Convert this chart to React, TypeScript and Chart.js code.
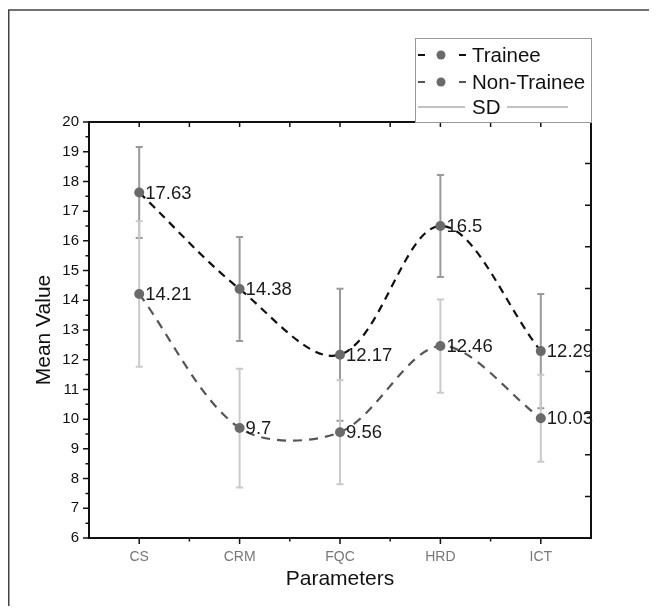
import React, { useEffect, useRef } from "react";
import { Chart, registerables } from "chart.js";

Chart.register(...registerables);

const categories = ["CS", "CRM", "FQC", "HRD", "ICT"];
const traineeMeans = [17.63, 14.38, 12.17, 16.5, 12.29];
const traineeSD = [1.53, 1.75, 2.22, 1.72, 1.92];
const nonTraineeMeans = [14.21, 9.7, 9.56, 12.46, 10.03];
const nonTraineeSD = [2.45, 2.0, 1.75, 1.57, 1.46];
const yMin = 6;
const yMax = 20;
const yStep = 1;
const legendLabels = ["Trainee", "Non-Trainee", "SD"];
const xTitle = "Parameters";
const yTitle = "Mean Value";

const FONT = "Arial, 'Liberation Sans', sans-serif";

const errorBarPlugin = {
  id: "errorBars",
  beforeDatasetsDraw(chart: any) {
    const { ctx } = chart;
    const x = chart.scales.x;
    const y = chart.scales.y;
    ctx.save();
    chart.data.datasets.forEach((ds: any) => {
      const sd = ds.sd as number[];
      if (!sd) return;
      ctx.strokeStyle = ds.errorColor;
      ctx.lineWidth = 2;
      (ds.data as number[]).forEach((v, i) => {
        const px = x.getPixelForValue(i);
        const top = y.getPixelForValue(v + sd[i]);
        const bot = y.getPixelForValue(v - sd[i]);
        ctx.beginPath();
        ctx.moveTo(px, top);
        ctx.lineTo(px, bot);
        ctx.moveTo(px - 3.5, top);
        ctx.lineTo(px + 3.5, top);
        ctx.moveTo(px - 3.5, bot);
        ctx.lineTo(px + 3.5, bot);
        ctx.stroke();
      });
    });
    ctx.restore();
  },
};

const labelPlugin = {
  id: "valueLabels",
  afterDraw(chart: any) {
    const { ctx } = chart;
    ctx.save();
    ctx.font = `18.5px ${FONT}`;
    ctx.fillStyle = "#1a1a1a";
    ctx.textBaseline = "middle";
    ctx.textAlign = "left";
    chart.data.datasets.forEach((ds: any, di: number) => {
      const meta = chart.getDatasetMeta(di);
      meta.data.forEach((pt: any, i: number) => {
        ctx.fillText(String(ds.data[i]), pt.x + 6, pt.y + 1);
      });
    });
    ctx.restore();
  },
};

const framePlugin = {
  id: "frameAxes",
  afterDraw(chart: any) {
    const { ctx, chartArea: a, width } = chart;
    const x = chart.scales.x;
    const y = chart.scales.y;
    ctx.save();
    // outer page frame (top and left)
    ctx.strokeStyle = "#444";
    ctx.lineWidth = 1.5;
    ctx.beginPath();
    ctx.moveTo(0.75, chart.height);
    ctx.lineTo(0.75, 2);
    ctx.lineTo(width, 2);
    ctx.stroke();

    // plot box
    ctx.strokeStyle = "#111";
    ctx.lineWidth = 2;
    ctx.strokeRect(a.left, a.top, a.right - a.left, a.bottom - a.top);

    ctx.lineWidth = 1.5;
    ctx.beginPath();
    // left axis ticks (outward)
    for (let v = yMin; v <= yMax + 1e-9; v += yStep / 2) {
      const py = y.getPixelForValue(v);
      const major = Math.abs(v - Math.round(v)) < 1e-6;
      ctx.moveTo(a.left, py);
      ctx.lineTo(a.left - (major ? 6 : 3.5), py);
    }
    // bottom axis ticks (outward) and top axis ticks (inward)
    const step = x.getPixelForValue(1) - x.getPixelForValue(0);
    for (let i = 0; i < categories.length; i++) {
      const px = x.getPixelForValue(i);
      ctx.moveTo(px, a.bottom);
      ctx.lineTo(px, a.bottom + 6);
      const half = px + step / 2;
      if (half < a.right - 1) {
        ctx.moveTo(half, a.bottom);
        ctx.lineTo(half, a.bottom + 3.5);
      }
      ctx.moveTo(px, a.top);
      ctx.lineTo(px, a.top + 5);
      if (half < a.right - 1) {
        ctx.moveTo(half, a.top);
        ctx.lineTo(half, a.top + 5);
      }
    }
    // right axis ticks (inward), 10 divisions
    for (let k = 1; k < 10; k++) {
      const py = a.bottom - ((a.bottom - a.top) * k) / 10;
      ctx.moveTo(a.right, py);
      ctx.lineTo(a.right - 6, py);
    }
    ctx.stroke();

    // legend
    const lw = 177;
    const lh = 84;
    const lx = a.right + 1 - lw;
    const ly = a.top - lh;
    ctx.fillStyle = "#fff";
    ctx.fillRect(lx, ly, lw, lh);
    ctx.strokeStyle = "#999";
    ctx.lineWidth = 1;
    ctx.strokeRect(lx + 0.5, ly + 0.5, lw - 1, lh);
    const rows = [ly + 17, ly + 44, ly + 69];
    const colors = ["#111", "#555"];
    ctx.font = `20.5px ${FONT}`;
    ctx.textBaseline = "middle";
    ctx.textAlign = "left";
    for (let r = 0; r < 2; r++) {
      ctx.strokeStyle = colors[r];
      ctx.lineWidth = 2;
      ctx.beginPath();
      ctx.moveTo(lx + 3, rows[r]);
      ctx.lineTo(lx + 10, rows[r]);
      ctx.moveTo(lx + 44, rows[r]);
      ctx.lineTo(lx + 51, rows[r]);
      ctx.stroke();
      ctx.fillStyle = "#6a6a6a";
      ctx.beginPath();
      ctx.arc(lx + 26, rows[r], 4.5, 0, Math.PI * 2);
      ctx.fill();
      ctx.fillStyle = "#111";
      ctx.fillText(legendLabels[r], lx + 57, rows[r] + 1);
    }
    ctx.strokeStyle = "#b0b0b0";
    ctx.lineWidth = 1.5;
    ctx.beginPath();
    ctx.moveTo(lx + 3, rows[2]);
    ctx.lineTo(lx + 50, rows[2]);
    ctx.moveTo(lx + 92, rows[2]);
    ctx.lineTo(lx + 153, rows[2]);
    ctx.stroke();
    ctx.fillStyle = "#111";
    ctx.fillText(legendLabels[2], lx + 57, rows[2] + 1);
    ctx.restore();
  },
};

export default function App() {
  const ref = useRef<HTMLCanvasElement | null>(null);
  useEffect(() => {
    if (!ref.current) return;
    Chart.defaults.font.family = FONT;
    const chart = new Chart(ref.current, {
      type: "line",
      data: {
        labels: categories,
        datasets: [
          {
            label: legendLabels[0],
            data: traineeMeans,
            sd: traineeSD,
            errorColor: "#9a9a9a",
            borderColor: "#111",
            borderWidth: 2.2,
            borderDash: [8, 6],
            tension: 0.35,
            pointRadius: 5,
            pointBorderWidth: 0,
            pointBackgroundColor: "#6a6a6a",
            fill: false,
          } as any,
          {
            label: legendLabels[1],
            data: nonTraineeMeans,
            sd: nonTraineeSD,
            errorColor: "#cacaca",
            borderColor: "#555",
            borderWidth: 2.2,
            borderDash: [9, 7],
            tension: 0.32,
            pointRadius: 5,
            pointBorderWidth: 0,
            pointBackgroundColor: "#6a6a6a",
            fill: false,
          } as any,
        ],
      },
      options: {
        animation: false,
        responsive: true,
        maintainAspectRatio: false,
        layout: { padding: { left: 0, top: 114, right: 66, bottom: 0 } },
        plugins: { legend: { display: false }, tooltip: { enabled: false } },
        scales: {
          x: {
            type: "category",
            offset: true,
            grid: { display: false, drawTicks: false },
            border: { display: false },
            ticks: { color: "#777", font: { size: 14, family: FONT }, padding: 11 },
            title: {
              display: true,
              text: xTitle,
              color: "#111",
              font: { size: 21, family: FONT },
              padding: { top: 0, bottom: 14 },
            },
            afterFit(scale: any) {
              scale.height = 68;
            },
          },
          y: {
            min: yMin,
            max: yMax,
            grid: { display: false, drawTicks: false },
            border: { display: false },
            ticks: { stepSize: yStep, color: "#111", font: { size: 15, family: FONT }, padding: 10 },
            title: {
              display: true,
              text: yTitle,
              color: "#111",
              font: { size: 21, family: FONT },
              padding: { top: 24, bottom: 0 },
            },
            afterFit(scale: any) {
              scale.width = 81;
            },
          },
        },
      },
      plugins: [errorBarPlugin, framePlugin, labelPlugin],
    });
    return () => chart.destroy();
  }, []);
  return (
    <div style={{ position: "relative", width: 649, height: 598 }}>
      <canvas ref={ref} />
    </div>
  );
}
